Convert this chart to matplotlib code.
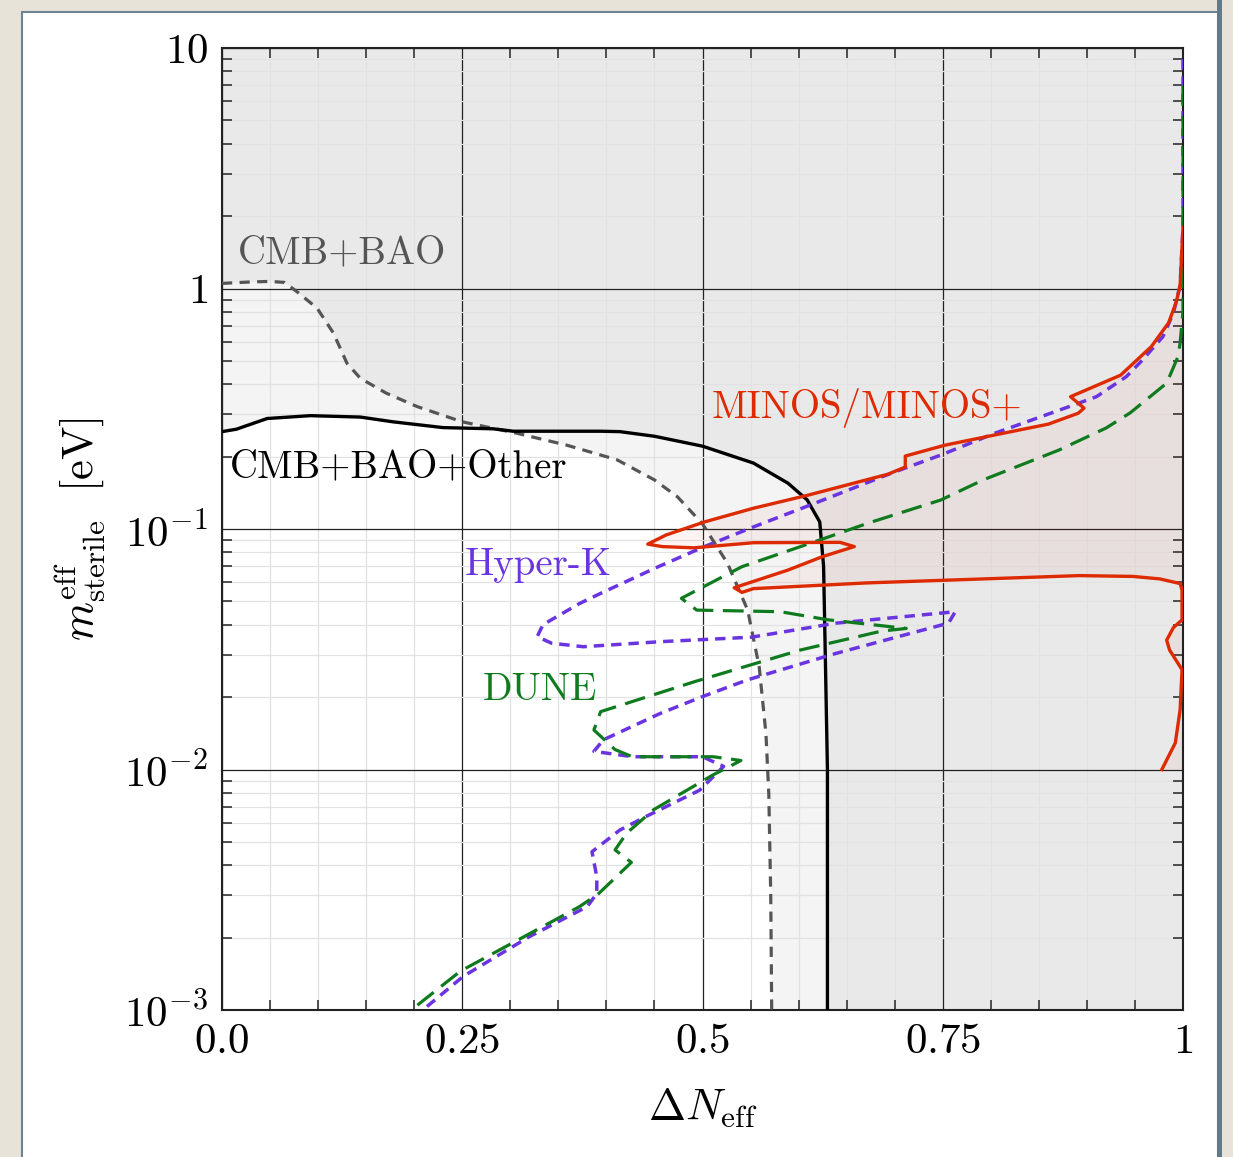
import numpy as np
import matplotlib
matplotlib.use("Agg")
import matplotlib.pyplot as plt
from matplotlib.patches import Rectangle
from matplotlib.ticker import MultipleLocator, LogLocator, NullFormatter

plt.rcParams['mathtext.fontset'] = 'cm'
plt.rcParams['font.family'] = ['cmr10', 'DejaVu Serif']
plt.rcParams['axes.unicode_minus'] = False

# CMB+BAO bound (dashed gray)
cmb_bao_x = [0.0, 0.03, 0.05, 0.065, 0.078, 0.099, 0.116, 0.13, 0.144, 0.171, 0.203, 0.25,
             0.307, 0.359, 0.411, 0.45, 0.474, 0.5, 0.526, 0.547, 0.559, 0.566, 0.569, 0.571, 0.572]
cmb_bao_y = [1.05, 1.065, 1.07, 1.06, 0.97, 0.828, 0.652, 0.489, 0.423, 0.367, 0.323, 0.279,
             0.250, 0.223, 0.194, 0.16, 0.136, 0.105, 0.072, 0.046, 0.0267, 0.0141, 0.0079, 0.003, 0.001]

# CMB+BAO+Other bound (solid black)
other_x = [0.0, 0.015, 0.047, 0.092, 0.144, 0.178, 0.23, 0.282, 0.303, 0.394, 0.414, 0.45,
           0.5, 0.553, 0.589, 0.609, 0.622, 0.626, 0.628, 0.63, 0.63]
other_y = [0.254, 0.26, 0.288, 0.296, 0.292, 0.279, 0.264, 0.261, 0.255, 0.255, 0.254, 0.243,
           0.221, 0.188, 0.155, 0.132, 0.107, 0.07, 0.0267, 0.01, 0.001]

# MINOS/MINOS+ contour (red)
minos_x = [0.978, 0.992, 0.997, 0.999, 0.986, 0.983, 0.990, 0.999, 0.999, 0.997, 0.976, 0.948,
           0.892, 0.792, 0.672, 0.553, 0.541, 0.533, 0.589, 0.625, 0.658, 0.643, 0.553, 0.491,
           0.458, 0.443, 0.462, 0.502, 0.553, 0.609, 0.693, 0.711, 0.711, 0.752, 0.804, 0.860,
           0.891, 0.897, 0.883, 0.935, 0.967, 0.985, 0.993, 0.997, 1.0, 1.0]
minos_y = [0.01, 0.0129, 0.0177, 0.026, 0.0314, 0.0345, 0.0389, 0.0419, 0.0557, 0.0593, 0.062, 0.0635,
           0.064, 0.062, 0.0597, 0.0565, 0.0545, 0.057, 0.0675, 0.0768, 0.0845, 0.088, 0.0877, 0.0835,
           0.0845, 0.0865, 0.0944, 0.107, 0.122, 0.138, 0.169, 0.181, 0.201, 0.223, 0.246, 0.273,
           0.303, 0.318, 0.355, 0.436, 0.573, 0.72, 0.88, 1.03, 1.8, 10.0]

# Hyper-K sensitivity (purple)
hk_x = [1.0, 1.0, 0.997, 0.990, 0.979, 0.958, 0.941, 0.910, 0.891, 0.804, 0.748, 0.697, 0.617,
        0.553, 0.502, 0.454, 0.394, 0.372, 0.334, 0.328, 0.343, 0.376, 0.456, 0.551, 0.639, 0.712,
        0.763, 0.756, 0.639, 0.547, 0.5, 0.456, 0.397, 0.387, 0.427, 0.5, 0.522, 0.497, 0.442,
        0.414, 0.385, 0.390, 0.390, 0.380, 0.320, 0.251, 0.209]
hk_y = [9.0, 1.8, 1.03, 0.79, 0.63, 0.505, 0.43, 0.355, 0.333, 0.25, 0.203, 0.171, 0.128,
        0.102, 0.0845, 0.0697, 0.054, 0.049, 0.040, 0.0357, 0.0335, 0.0324, 0.034, 0.0355, 0.0406, 0.0433,
        0.0453, 0.0406, 0.0304, 0.0236, 0.0201, 0.0171, 0.0133, 0.0119, 0.0113, 0.0113, 0.0103, 0.0082, 0.0064,
        0.0056, 0.00455, 0.00358, 0.00305, 0.00269, 0.00202, 0.00138, 0.001]

# DUNE sensitivity (green)
du_x = [1.0, 1.0, 0.997, 0.995, 0.983, 0.945, 0.920, 0.871, 0.792, 0.748, 0.673, 0.617, 0.541,
        0.478, 0.494, 0.581, 0.631, 0.712, 0.686, 0.602, 0.492, 0.394, 0.387, 0.409, 0.427, 0.511,
        0.540, 0.522, 0.511, 0.449, 0.421, 0.409, 0.426, 0.392, 0.372, 0.248, 0.197]
du_y = [7.0, 0.8, 0.595, 0.523, 0.404, 0.304, 0.263, 0.213, 0.160, 0.132, 0.106, 0.0886, 0.0697,
        0.0515, 0.046, 0.0453, 0.0419, 0.0386, 0.0376, 0.0314, 0.0232, 0.0174, 0.0146, 0.0121, 0.0113, 0.0113,
        0.0109, 0.01, 0.0095, 0.0068, 0.00543, 0.00463, 0.00411, 0.00305, 0.00269, 0.00145, 0.001]

xmin, xmax = 0.0, 1.0
ymin, ymax = 1e-3, 10.0

fig = plt.figure(figsize=(12.33, 11.57), dpi=100)
fig.patch.set_facecolor('#e7e3d9')

# white card with a blue-gray edge, behind the axes
fig.patches.append(Rectangle((22 / 1233, -0.01), (1218 - 22) / 1233, (1157 - 12) / 1157 + 0.01,
                             transform=fig.transFigure, facecolor='white',
                             edgecolor='#6d8593', linewidth=1.5, zorder=-2))
fig.patches.append(Rectangle((1217 / 1233, 0), 5 / 1233, 1,
                             transform=fig.transFigure, facecolor='#617b8a',
                             edgecolor='none', zorder=-1))

ax = fig.add_axes([222 / 1233, 1 - 1010 / 1157, (1183 - 222) / 1233, (1010 - 48) / 1157])
ax.set_yscale('log')
ax.set_xlim(xmin, xmax)
ax.set_ylim(ymin, ymax)

# excluded regions (two overlapping translucent gray layers)
ax.fill(cmb_bao_x + [xmax, xmax, xmin], cmb_bao_y + [ymin, ymax, ymax],
        color='k', alpha=0.043, lw=0, zorder=0.5)
ax.fill(other_x + [xmax, xmax, xmin], other_y + [ymin, ymax, ymax],
        color='k', alpha=0.043, lw=0, zorder=0.5)

# MINOS filled region, closed along the right edge
ax.fill(minos_x + [xmax], minos_y + [minos_y[0]], color='#d43010', alpha=0.05, lw=0, zorder=0.6)

# grid
ax.xaxis.set_major_locator(MultipleLocator(0.25))
ax.xaxis.set_minor_locator(MultipleLocator(0.05))
ax.yaxis.set_major_locator(LogLocator(base=10, numticks=10))
ax.yaxis.set_minor_locator(LogLocator(base=10, subs=np.arange(2, 10), numticks=20))
ax.yaxis.set_minor_formatter(NullFormatter())
ax.grid(which='minor', color='#e2e2e2', lw=0.9, zorder=1)
ax.grid(which='major', color='#222222', lw=0.9, zorder=1)
ax.set_axisbelow(True)

ax.plot(cmb_bao_x, cmb_bao_y, color='#555555', lw=2.3, ls=(0, (3.2, 2.3)), zorder=3)
ax.plot(other_x, other_y, color='black', lw=2.4, zorder=3)
ax.plot(minos_x[:-1], minos_y[:-1], color='#dd2a00', lw=2.4, zorder=3.2)
ax.plot(hk_x, hk_y, color='#6a35e0', lw=2.5, ls=(0, (3.0, 2.0)), zorder=3.1)
ax.plot(du_x, du_y, color='#107a1e', lw=2.3, ls=(0, (6.5, 3.0)), zorder=3.1)

# labels
ax.text(0.017, 1.40, 'CMB+BAO', color='#555555', fontsize=28, va='center', ha='left')
ax.text(0.008, 0.181, 'CMB+BAO+Other', color='black', fontsize=28, va='center', ha='left')
ax.text(0.509, 0.318, 'MINOS/MINOS+', color='#dd2a00', fontsize=28, va='center', ha='left')
ax.text(0.253, 0.0708, 'Hyper-K', color='#6a35e0', fontsize=28, va='center', ha='left')
ax.text(0.271, 0.0214, 'DUNE', color='#107a1e', fontsize=28, va='center', ha='left')

ax.set_xticks([0.0, 0.25, 0.5, 0.75, 1.0])
ax.set_xticklabels([r'$0.0$', r'$0.25$', r'$0.5$', r'$0.75$', r'$1$'])
ax.set_yticks([1e-3, 1e-2, 1e-1, 1, 10])
ax.set_yticklabels([r'$10^{-3}$', r'$10^{-2}$', r'$10^{-1}$', r'$1$', r'$10$'])

ax.tick_params(which='both', direction='in', top=True, right=True, labelsize=31, pad=10)
ax.tick_params(which='major', length=0, width=1)
ax.tick_params(which='minor', length=7, width=1.2, color='#333333')
for s in ax.spines.values():
    s.set_linewidth(1.5)
    s.set_color('#222222')

ax.set_xlabel(r'$\Delta N_{\rm eff}$', fontsize=32, labelpad=18)
ax.set_ylabel(r'$m^{\rm eff}_{\rm sterile}\ \ [{\rm eV}]$', fontsize=32, labelpad=12)

fig.savefig('out.png', dpi=100, facecolor=fig.get_facecolor())
